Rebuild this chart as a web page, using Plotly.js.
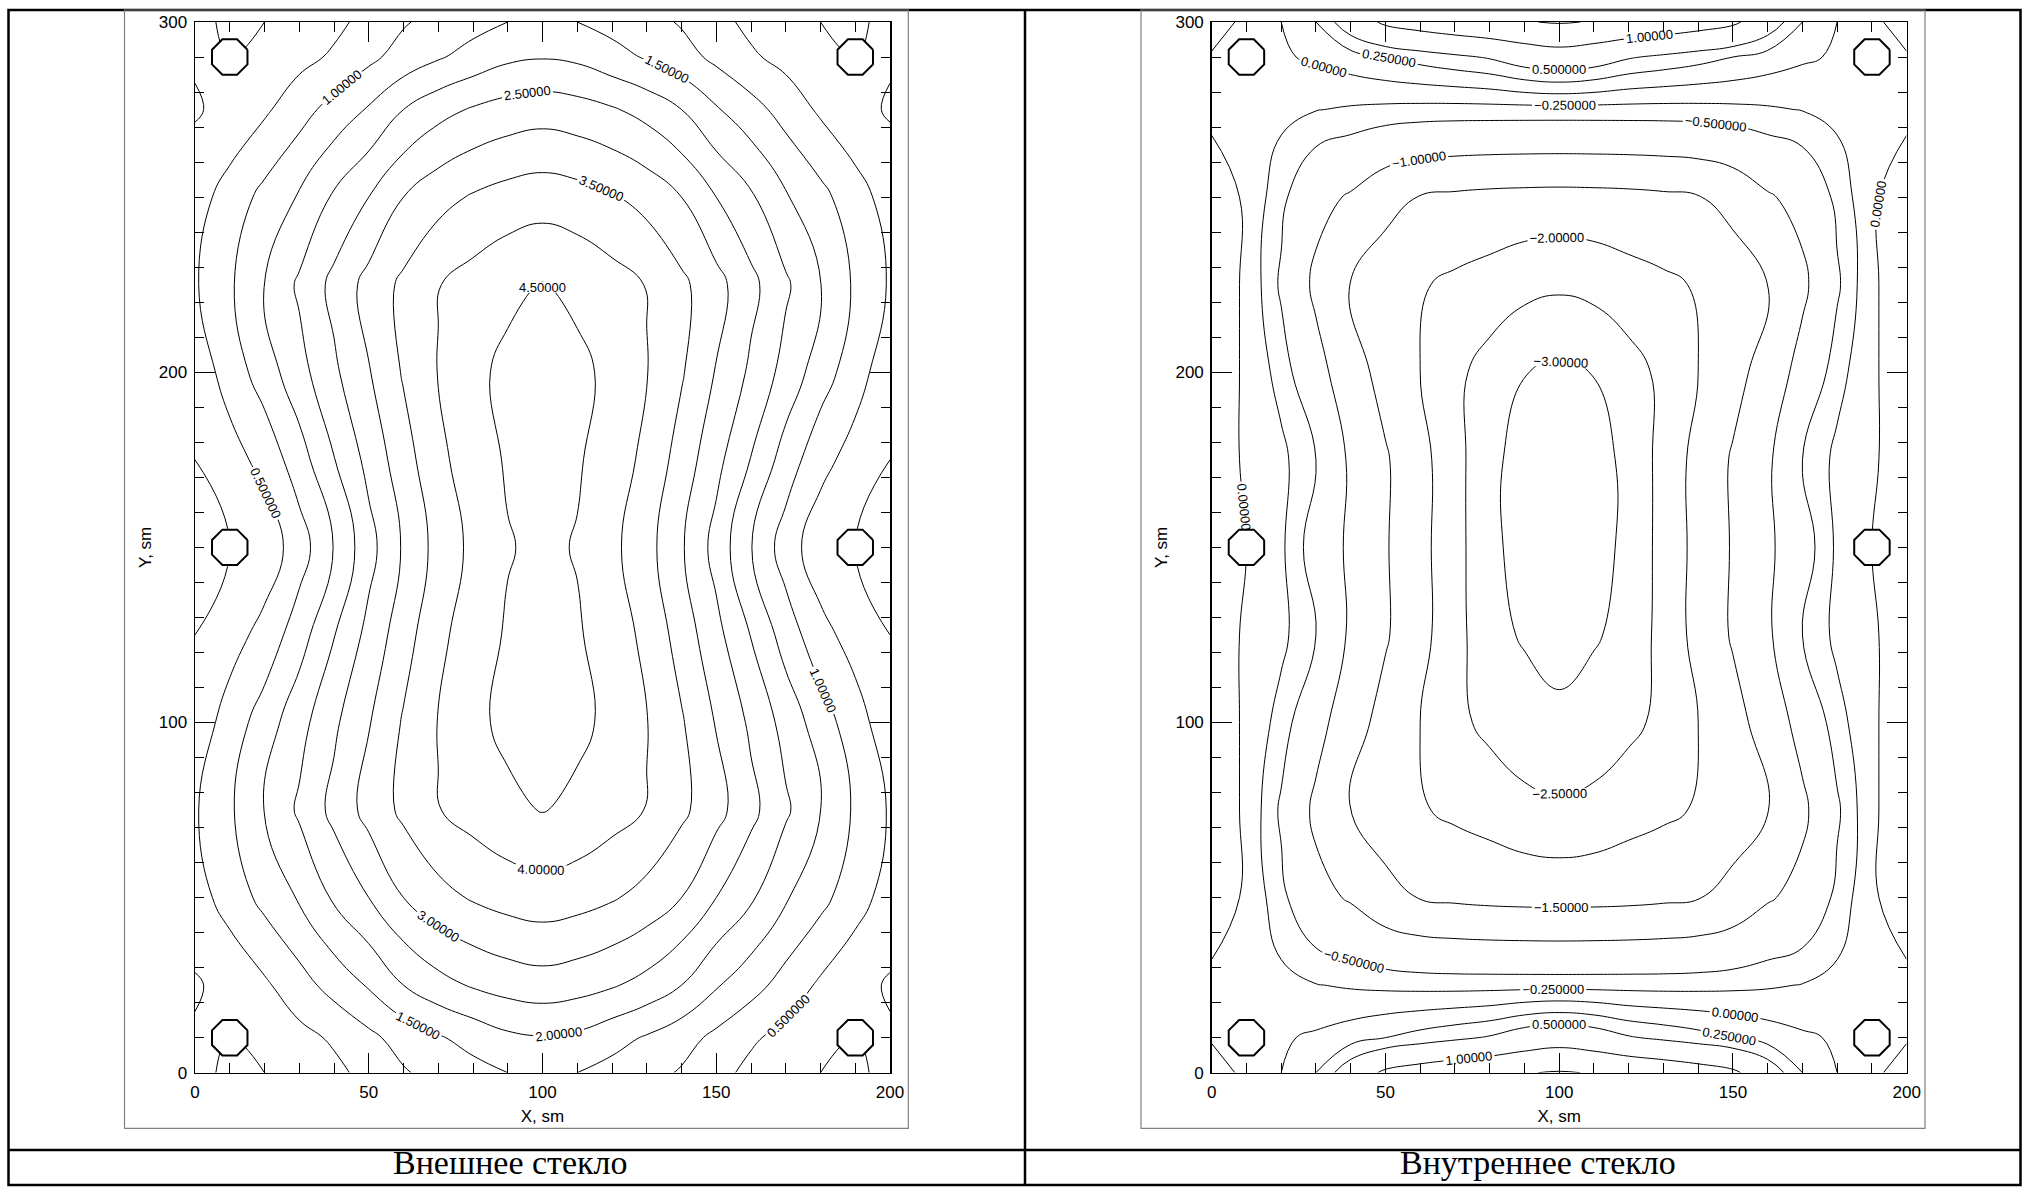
<!DOCTYPE html>
<html><head><meta charset="utf-8">
<script src="https://cdn.plot.ly/plotly-3.0.1.min.js"></script>
<style>html,body{margin:0;padding:0;background:#fff;}#chart{width:2024px;height:1187px;}</style>
</head><body><div id="chart"></div>
<script>
// ---- data ----
const xGrid = [0,10,20,30,40,50,60,70,80,90,100,110,120,130,140,150,160,170,180,190,200];
const yGrid = [0,10,25,50,75,100,125,150,175,200,225,250,275,290,300];

// Outer glass ("Внешнее стекло"), rows follow yGrid, columns follow xGrid
const outerZ = [
 [0.15,-0.10,0.00,0.18,0.38,0.65,0.95,1.18,1.33,1.50,1.55,1.50,1.33,1.18,0.95,0.65,0.38,0.18,0.00,-0.10,0.15],
 [0.05,0.00,0.15,0.35,0.57,0.88,1.20,1.45,1.68,1.90,1.97,1.90,1.68,1.45,1.20,0.88,0.57,0.35,0.15,0.00,0.05],
 [-0.05,0.15,0.42,0.80,1.19,1.55,2.00,2.33,2.55,2.70,2.78,2.70,2.55,2.33,2.00,1.55,1.19,0.80,0.42,0.15,-0.05],
 [0.30,0.70,1.15,1.55,2.07,2.50,3.00,3.33,3.55,3.70,3.78,3.70,3.55,3.33,3.00,2.50,2.07,1.55,1.15,0.70,0.30],
 [0.45,0.92,1.53,2.08,2.64,3.17,3.61,3.98,4.20,4.40,4.52,4.40,4.20,3.98,3.61,3.17,2.64,2.08,1.53,0.92,0.45],
 [0.20,0.71,1.25,1.82,2.41,2.97,3.55,4.02,4.40,4.60,4.66,4.60,4.40,4.02,3.55,2.97,2.41,1.82,1.25,0.71,0.20],
 [0.00,0.30,0.66,1.28,1.98,2.65,3.29,3.87,4.27,4.55,4.65,4.55,4.27,3.87,3.29,2.65,1.98,1.28,0.66,0.30,0.00],
 [-0.25,0.00,0.20,0.75,1.52,2.32,3.06,3.68,4.12,4.47,4.60,4.47,4.12,3.68,3.06,2.32,1.52,0.75,0.20,0.00,-0.25],
 [0.00,0.30,0.66,1.28,1.98,2.65,3.29,3.87,4.27,4.55,4.65,4.55,4.27,3.87,3.29,2.65,1.98,1.28,0.66,0.30,0.00],
 [0.20,0.71,1.25,1.82,2.41,2.97,3.55,4.02,4.40,4.60,4.66,4.60,4.40,4.02,3.55,2.97,2.41,1.82,1.25,0.71,0.20],
 [0.45,0.92,1.53,2.08,2.64,3.17,3.61,3.98,4.20,4.40,4.52,4.40,4.20,3.98,3.61,3.17,2.64,2.08,1.53,0.92,0.45],
 [0.30,0.70,1.15,1.55,2.07,2.50,3.00,3.33,3.55,3.70,3.78,3.70,3.55,3.33,3.00,2.50,2.07,1.55,1.15,0.70,0.30],
 [-0.05,0.15,0.42,0.80,1.19,1.55,2.00,2.33,2.55,2.70,2.78,2.70,2.55,2.33,2.00,1.55,1.19,0.80,0.42,0.15,-0.05],
 [0.05,0.00,0.15,0.35,0.57,0.88,1.20,1.45,1.68,1.90,1.97,1.90,1.68,1.45,1.20,0.88,0.57,0.35,0.15,0.00,0.05],
 [0.15,-0.10,0.00,0.18,0.38,0.65,0.95,1.18,1.33,1.50,1.55,1.50,1.33,1.18,0.95,0.65,0.38,0.18,0.00,-0.10,0.15]
];

// Inner glass ("Внутреннее стекло")
const innerZ = [
 [0.10,-0.05,0.00,0.25,0.72,1.08,1.22,1.33,1.42,1.48,1.53,1.48,1.42,1.33,1.22,1.08,0.72,0.25,0.00,-0.05,0.10],
 [-0.02,0.00,-0.03,0.04,0.14,0.25,0.35,0.44,0.53,0.70,0.79,0.70,0.53,0.44,0.35,0.25,0.14,0.04,-0.03,0.00,-0.02],
 [-0.05,-0.12,-0.18,-0.24,-0.28,-0.31,-0.33,-0.34,-0.34,-0.34,-0.34,-0.34,-0.34,-0.34,-0.33,-0.31,-0.28,-0.24,-0.18,-0.12,-0.05],
 [0.12,-0.03,-0.42,-0.85,-1.05,-1.35,-1.52,-1.58,-1.62,-1.64,-1.65,-1.64,-1.62,-1.58,-1.52,-1.35,-1.05,-0.85,-0.42,-0.03,0.12],
 [0.12,-0.03,-0.55,-1.10,-1.54,-1.75,-1.96,-2.09,-2.20,-2.35,-2.42,-2.35,-2.20,-2.09,-1.96,-1.75,-1.54,-1.10,-0.55,-0.03,0.12],
 [0.12,-0.03,-0.35,-0.83,-1.29,-1.67,-2.00,-2.38,-2.62,-2.82,-2.94,-2.82,-2.62,-2.38,-2.00,-1.67,-1.29,-0.83,-0.35,-0.03,0.12],
 [0.12,-0.03,-0.18,-0.50,-1.08,-1.45,-1.85,-2.30,-2.88,-3.04,-3.10,-3.04,-2.88,-2.30,-1.85,-1.45,-1.08,-0.50,-0.18,-0.03,0.12],
 [0.08,0.00,-0.20,-0.67,-1.09,-1.46,-1.86,-2.30,-2.93,-3.11,-3.17,-3.11,-2.93,-2.30,-1.86,-1.46,-1.09,-0.67,-0.20,0.00,0.08],
 [0.12,-0.03,-0.18,-0.50,-1.08,-1.45,-1.85,-2.30,-2.93,-3.11,-3.17,-3.11,-2.93,-2.30,-1.85,-1.45,-1.08,-0.50,-0.18,-0.03,0.12],
 [0.12,-0.03,-0.35,-0.83,-1.29,-1.67,-2.00,-2.38,-2.70,-2.99,-3.10,-2.99,-2.70,-2.38,-2.00,-1.67,-1.29,-0.83,-0.35,-0.03,0.12],
 [0.12,-0.03,-0.55,-1.10,-1.54,-1.75,-1.96,-2.09,-2.20,-2.35,-2.42,-2.35,-2.20,-2.09,-1.96,-1.75,-1.54,-1.10,-0.55,-0.03,0.12],
 [0.12,-0.03,-0.42,-0.85,-1.05,-1.35,-1.52,-1.58,-1.62,-1.64,-1.65,-1.64,-1.62,-1.58,-1.52,-1.35,-1.05,-0.85,-0.42,-0.03,0.12],
 [-0.05,-0.12,-0.18,-0.24,-0.28,-0.31,-0.33,-0.34,-0.34,-0.34,-0.34,-0.34,-0.34,-0.34,-0.33,-0.31,-0.28,-0.24,-0.18,-0.12,-0.05],
 [-0.02,0.00,-0.03,0.04,0.14,0.25,0.35,0.44,0.53,0.70,0.79,0.70,0.53,0.44,0.35,0.25,0.14,0.04,-0.03,0.00,-0.02],
 [0.10,-0.05,0.00,0.25,0.72,1.08,1.22,1.33,1.42,1.48,1.53,1.48,1.42,1.33,1.22,1.08,0.72,0.25,0.00,-0.05,0.10]
];

// contour levels
const outerLevels = {start: 0.5, end: 4.5, size: 0.5};
const outerZeroLevel = {start: 0, end: 0.1, size: 1};
const innerLevels = {start: -3.0, end: 1.5, size: 0.5};
const innerQuarterLevels = {start: -0.25, end: 0.25, size: 0.5};

// supports (octagons), sm
const holeX = [10, 190, 10, 190, 10, 190];
const holeY = [10, 10, 150, 150, 290, 290];
const holeApothem = 5.1;

// ticks and texts
const xTicks = [0, 50, 100, 150, 200];
const yTicks = [0, 100, 200, 300];
const xTitle = 'X, sm';
const yTitle = 'Y, sm';
const captions = ['Внешнее стекло', 'Внутреннее стекло'];

// ---- drawing ----
const W = 2024, H = 1187;
const px = v => v / W;
const py = v => 1 - v / H;
const SANS = 'Liberation Sans, Arial, sans-serif';

function contourTrace(z, lv, labels, xa, ya) {
  return {
    type: 'contour', x: xGrid, y: yGrid, z: z, xaxis: xa, yaxis: ya,
    autocontour: false, contours: Object.assign({coloring: 'none', showlabels: labels,
      labelfont: {family: SANS, size: 13, color: 'black'}, labelformat: '.6g'}, lv),
    line: {color: 'black', width: 1, smoothing: 1.25}, showscale: false, hoverinfo: 'skip'
  };
}
function octagonTrace(cx, cy, a, xa, ya) {
  const r = a / Math.cos(Math.PI / 8);
  const xs = [], ys = [];
  for (let k = 0; k <= 8; k++) {
    const t = Math.PI / 8 + k * Math.PI / 4;
    xs.push(cx + r * Math.cos(t));
    ys.push(cy + r * Math.sin(t) * (3.475 / 3.502));
  }
  return {type: 'scatter', mode: 'lines', x: xs, y: ys, xaxis: xa, yaxis: ya, fill: 'toself',
    fillcolor: 'white', line: {color: 'black', width: 2}, hoverinfo: 'skip', showlegend: false};
}

const traces = [
  contourTrace(outerZ, outerLevels, true, 'x', 'y'),
  contourTrace(outerZ, outerZeroLevel, false, 'x', 'y'),
  contourTrace(innerZ, innerLevels, true, 'x2', 'y2'),
  contourTrace(innerZ, innerQuarterLevels, true, 'x2', 'y2')
];
for (let i = 0; i < holeX.length; i++) {
  traces.push(octagonTrace(holeX[i], holeY[i], holeApothem, 'x', 'y'));
  traces.push(octagonTrace(holeX[i], holeY[i], holeApothem, 'x2', 'y2'));
}

function xAxis(domain, anchor) {
  return {domain: domain, anchor: anchor, range: [0, 200], tickvals: xTicks, showgrid: false, zeroline: false,
    showline: true, linecolor: 'black', linewidth: 1.5, mirror: 'ticks', ticks: 'inside', ticklen: 20,
    tickwidth: 1, tickcolor: 'black', tickfont: {family: SANS, size: 17, color: 'black'}, ticklabelstandoff: 3,
    minor: {ticks: 'inside', ticklen: 10, dtick: 10, tick0: 0, tickwidth: 1, tickcolor: 'black', showgrid: false},
    title: {text: xTitle, font: {family: SANS, size: 17, color: 'black'}, standoff: 9}, fixedrange: true};
}
function yAxis(domain, anchor) {
  return {domain: domain, anchor: anchor, range: [0, 300], tickvals: yTicks, showgrid: false, zeroline: false,
    showline: true, linecolor: 'black', linewidth: 1.5, mirror: 'ticks', ticks: 'inside', ticklen: 20,
    tickwidth: 1, tickcolor: 'black', tickfont: {family: SANS, size: 17, color: 'black'}, ticklabelstandoff: 3,
    minor: {ticks: 'inside', ticklen: 9, dtick: 10, tick0: 0, tickwidth: 1, tickcolor: 'black', showgrid: false},
    title: {text: yTitle, font: {family: SANS, size: 17, color: 'black'}, standoff: 3}, fixedrange: true};
}

const yDom = [py(1072.7), py(22)];
const shapes = [
  // table
  {type: 'rect', xref: 'paper', yref: 'paper', x0: px(8.5), x1: px(2020.5), y0: py(1185), y1: py(10), line: {color: 'black', width: 2.5}},
  {type: 'line', xref: 'paper', yref: 'paper', x0: px(1025), x1: px(1025), y0: py(1185), y1: py(10), line: {color: 'black', width: 2.5}},
  {type: 'line', xref: 'paper', yref: 'paper', x0: px(8.5), x1: px(2020.5), y0: py(1150), y1: py(1150), line: {color: 'black', width: 2.5}},
  // graphic frames
  {type: 'rect', xref: 'paper', yref: 'paper', x0: px(124.5), x1: px(908.3), y0: py(1128.3), y1: py(10), line: {color: '#808080', width: 1.2}},
  {type: 'rect', xref: 'paper', yref: 'paper', x0: px(1141), x1: px(1925), y0: py(1128.3), y1: py(10), line: {color: '#808080', width: 1.2}}
];
const annotations = [
  {xref: 'paper', yref: 'paper', x: px(511), y: py(1162), text: captions[0], showarrow: false,
   xanchor: 'center', yanchor: 'middle', font: {family: 'Liberation Serif, Times New Roman, serif', size: 34, color: 'black'}},
  {xref: 'paper', yref: 'paper', x: px(1538), y: py(1162), text: captions[1], showarrow: false,
   xanchor: 'center', yanchor: 'middle', font: {family: 'Liberation Serif, Times New Roman, serif', size: 34, color: 'black'}}
];

const layout = {
  width: W, height: H, margin: {l: 0, r: 0, t: 0, b: 0}, paper_bgcolor: 'white', plot_bgcolor: 'white',
  showlegend: false, font: {family: SANS, color: 'black'},
  xaxis: xAxis([px(195), px(890)], 'y'),
  yaxis: yAxis(yDom, 'x'),
  xaxis2: xAxis([px(1211.7), px(1906.7)], 'y2'),
  yaxis2: yAxis(yDom, 'x2'),
  shapes: shapes, annotations: annotations
};
Plotly.newPlot('chart', traces, layout, {staticPlot: true, displayModeBar: false});
</script></body></html>
